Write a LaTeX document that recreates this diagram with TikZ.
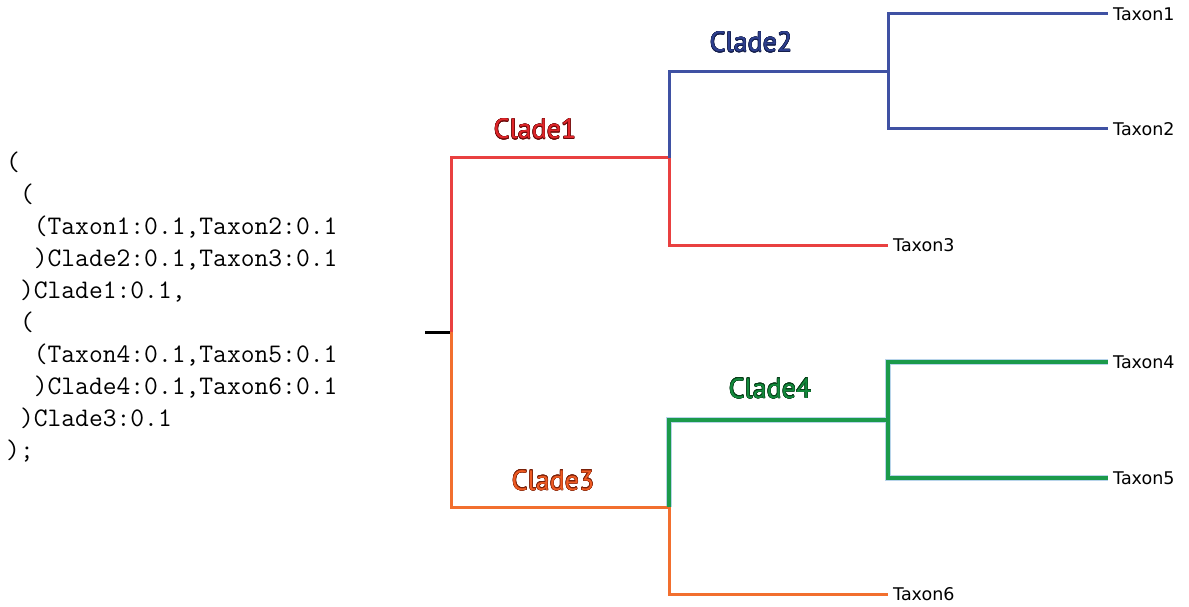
\documentclass[tikz,border=0pt]{standalone}
\usepackage{fontspec}
\usepackage{contour}
\contourlength{0.45pt}
\contournumber{16}
\newfontfamily\cladefont{PT Sans}
\newfontfamily\taxfont{DejaVu Sans}
\definecolor{cred}{HTML}{E94040}
\definecolor{cblue}{HTML}{3F51A3}
\definecolor{corange}{HTML}{F26F2E}
\definecolor{cgreen}{HTML}{1B9A4B}
\definecolor{chalo}{HTML}{B8D4EA}
\definecolor{tred}{HTML}{E0262A}
\definecolor{ored}{HTML}{6A0A0A}
\definecolor{tblue}{HTML}{2E3F8E}
\definecolor{oblue}{HTML}{141E4A}
\definecolor{torange}{HTML}{EE5A22}
\definecolor{oorange}{HTML}{7A2008}
\definecolor{tgreen}{HTML}{138A3C}
\definecolor{ogreen}{HTML}{073D18}
\newcommand{\cladetext}[3]{\contour{#2}{\textcolor{#1}{#3}}}
\tikzset{
  br/.style={line width=3pt},
  grn/.style={line width=4pt, cgreen},
  halo/.style={line width=6pt, chalo},
  tax/.style={anchor=west, inner sep=0pt, font=\taxfont\fontsize{17.5}{20}\selectfont},
  clade/.style={inner sep=0pt, anchor=base, font=\cladefont\fontsize{28}{32}\selectfont},
}
\begin{document}
\begin{tikzpicture}[x=1pt,y=-1pt]
\useasboundingbox (0,0) rectangle (1189,607);
% newick text
\node[anchor=base west, inner sep=0pt, align=left, font=\ttfamily\fontsize{26.8}{32}\selectfont] (newick) at (6,458)
{(\\
~(\\
~~(Taxon1:0.1,Taxon2:0.1\\
~~)Clade2:0.1,Taxon3:0.1\\
~)Clade1:0.1,\\
~(\\
~~(Taxon4:0.1,Taxon5:0.1\\
~~)Clade4:0.1,Taxon6:0.1\\
~)Clade3:0.1\\
);};
% tree coordinates
\coordinate (rt) at (425,332);
\coordinate (root) at (451,332);
\coordinate (c1) at (669,158);
\coordinate (c2) at (888,72);
\coordinate (t1) at (1108,14);
\coordinate (t2) at (1108,129);
\coordinate (t3) at (888,245);
\coordinate (c3) at (669,507);
\coordinate (c4) at (888,420);
\coordinate (t4) at (1108,362);
\coordinate (t5) at (1108,478);
\coordinate (t6) at (888,594);
% halo for green clade
\draw[halo] (c3) |- (c4);
\draw[halo] (c4) |- (t4);
\draw[halo] (c4) |- (t5);
% branches
\draw[br, black] (rt) -- (root);
\draw[br, cred] (root) |- (c1);
\draw[br, cblue] (c1) |- (c2);
\draw[br, cred] (c1) |- (t3);
\draw[br, cblue] (c2) |- (t1);
\draw[br, cblue] (c2) |- (t2);
\draw[br, corange] (root) |- (c3);
\draw[br, corange] (c3) |- (t6);
\draw[grn] (c3) |- (c4);
\draw[grn] (c4) |- (t4);
\draw[grn] (c4) |- (t5);
% clade labels
\node[clade] (l1) at (535,139) {\cladetext{tred}{ored}{Clade1}};
\node[clade] (l2) at (751,52) {\cladetext{tblue}{oblue}{Clade2}};
\node[clade] (l3) at (553,490) {\cladetext{torange}{oorange}{Clade3}};
\node[clade] (l4) at (770,398) {\cladetext{tgreen}{ogreen}{Clade4}};
% taxon labels
\node[tax] (n1) at ([xshift=5pt]t1) {Taxon1};
\node[tax] (n2) at ([xshift=5pt]t2) {Taxon2};
\node[tax] (n3) at ([xshift=5pt]t3) {Taxon3};
\node[tax] (n4) at ([xshift=5pt]t4) {Taxon4};
\node[tax] (n5) at ([xshift=5pt]t5) {Taxon5};
\node[tax] (n6) at ([xshift=5pt]t6) {Taxon6};
\end{tikzpicture}
\end{document}
